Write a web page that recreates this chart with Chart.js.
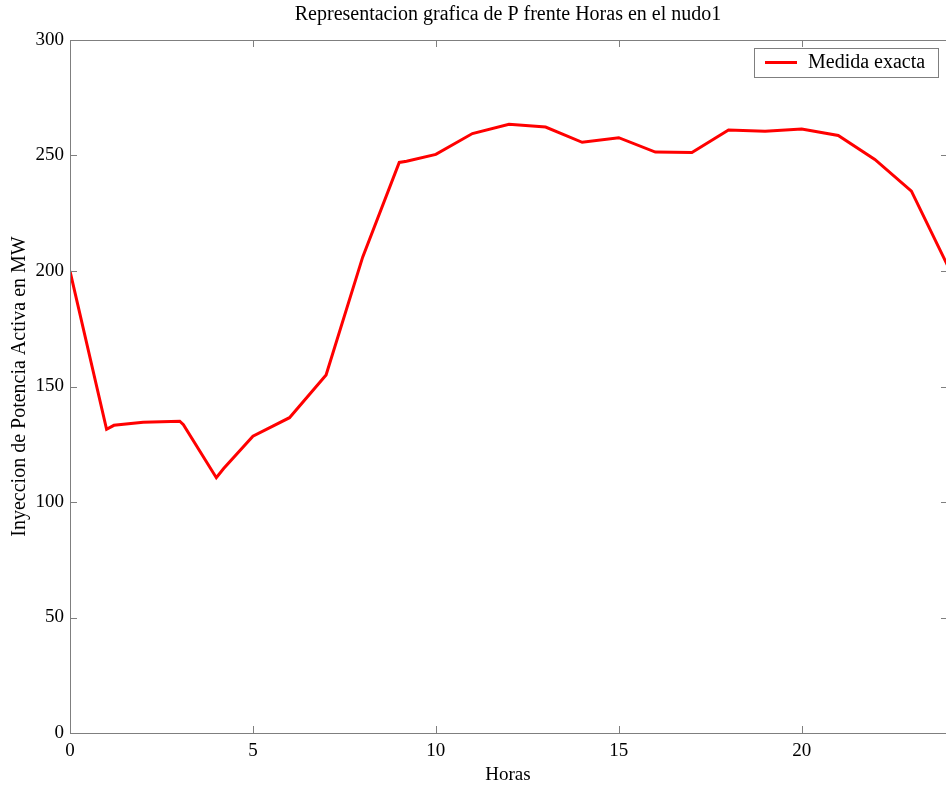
<!DOCTYPE html>
<html>
<head>
<meta charset="utf-8">
<script src="https://cdn.jsdelivr.net/npm/chart.js@4/dist/chart.umd.min.js"></script>
<style>
    html, body { margin: 0; padding: 0; background: #fff; overflow: hidden; }
    #wrap { width: 950px; height: 789px; }
</style>
</head>
<body>
<div id="wrap"><canvas id="chart" width="950" height="789"></canvas></div>
<script>
// values
const hours = [0, 1, 1.2, 2, 3, 3.1, 4, 4.2, 5, 6, 7, 8, 9, 9.2, 10, 11, 12, 13, 14, 15, 16, 17, 18, 19, 20, 21, 22, 23, 24];
const power = [200, 131.5, 133.2, 134.5, 135, 133.5, 110.5, 114.5, 128.5, 136.5, 155, 206, 247, 247.5, 250.5, 259.5, 263.5, 262.3, 255.7, 257.7, 251.5, 251.3, 261, 260.5, 261.5, 258.7, 248.3, 234.6, 202];
const xTicks = [0, 5, 10, 15, 20];
const yTicks = [0, 50, 100, 150, 200, 250, 300];

const chartTitle = 'Representacion grafica de P frente Horas en el nudo1';
const xTitle = 'Horas';
const yTitle = 'Inyeccion de Potencia Activa en MW';
const seriesName = 'Medida exacta';

const FONT = '"Liberation Serif", "Times New Roman", serif';
const AXIS_GREY = '#7f7f7f';

// frame, inward ticks, titles and legend, matlab style
const matlabFrame = {
    id: 'matlabFrame',
    afterDraw: (chart) => {
        const { ctx, chartArea: a, scales } = chart;
        const tick = 7;
        ctx.save();
        ctx.strokeStyle = AXIS_GREY;
        ctx.lineWidth = 1;
        ctx.strokeRect(a.left + 0.5, a.top + 0.5, a.right - a.left, a.bottom - a.top);

        ctx.beginPath();
        xTicks.forEach(v => {
            const x = Math.round(scales.x.getPixelForValue(v)) + 0.5;
            ctx.moveTo(x, a.bottom); ctx.lineTo(x, a.bottom - tick);
            ctx.moveTo(x, a.top); ctx.lineTo(x, a.top + tick);
        });
        yTicks.forEach(v => {
            const y = Math.round(scales.y.getPixelForValue(v)) + 0.5;
            ctx.moveTo(a.left, y); ctx.lineTo(a.left + tick, y);
            ctx.moveTo(a.right, y); ctx.lineTo(a.right - tick, y);
        });
        ctx.stroke();

        ctx.fillStyle = '#000';
        ctx.textAlign = 'center';
        ctx.textBaseline = 'middle';
        const cx = 508;
        ctx.font = '20px ' + FONT;
        ctx.fillText(chartTitle, cx, 15);
        ctx.font = '19px ' + FONT;
        ctx.fillText(xTitle, cx, 775);

        ctx.save();
        ctx.translate(20, (a.top + a.bottom) / 2);
        ctx.rotate(-Math.PI / 2);
        ctx.font = '20px ' + FONT;
        ctx.fillText(yTitle, 0, 0);
        ctx.restore();

        // legend box
        const ds = chart.data.datasets[0];
        ctx.fillStyle = '#fff';
        ctx.fillRect(754.5, 48.5, 184, 29);
        ctx.strokeStyle = AXIS_GREY;
        ctx.strokeRect(754.5, 48.5, 184, 29);
        ctx.strokeStyle = ds.borderColor;
        ctx.lineWidth = 3;
        ctx.beginPath();
        ctx.moveTo(765, 62.5); ctx.lineTo(797, 62.5);
        ctx.stroke();
        ctx.fillStyle = '#000';
        ctx.textAlign = 'left';
        ctx.font = '20px ' + FONT;
        ctx.fillText(ds.label, 808, 63);
        ctx.restore();
    }
};

new Chart(document.getElementById('chart'), {
    type: 'line',
    data: {
        datasets: [{
            label: seriesName,
            data: hours.map((h, i) => ({ x: h, y: power[i] })),
            borderColor: '#ff0000',
            borderWidth: 3,
            pointRadius: 0,
            tension: 0,
            fill: false
        }]
    },
    options: {
        responsive: false,
        animation: false,
        layout: { padding: { top: 40, right: 2, left: 0, bottom: 0 } },
        plugins: {
            legend: { display: false },
            title: { display: false },
            tooltip: { enabled: false }
        },
        scales: {
            x: {
                type: 'linear',
                min: 0,
                max: 24,
                afterFit: (scale) => { scale.height = 56; },
                afterBuildTicks: (scale) => { scale.ticks = xTicks.map(v => ({ value: v })); },
                grid: { display: false, drawTicks: false },
                border: { display: false },
                ticks: { color: '#000', font: { family: FONT, size: 19 }, padding: 7, maxRotation: 0 }
            },
            y: {
                type: 'linear',
                min: 0,
                max: 300,
                afterFit: (scale) => { scale.width = 70; },
                afterBuildTicks: (scale) => { scale.ticks = yTicks.map(v => ({ value: v })); },
                grid: { display: false, drawTicks: false },
                border: { display: false },
                ticks: { color: '#000', font: { family: FONT, size: 19 }, padding: 6 }
            }
        }
    },
    plugins: [matlabFrame]
});
</script>
</body>
</html>
